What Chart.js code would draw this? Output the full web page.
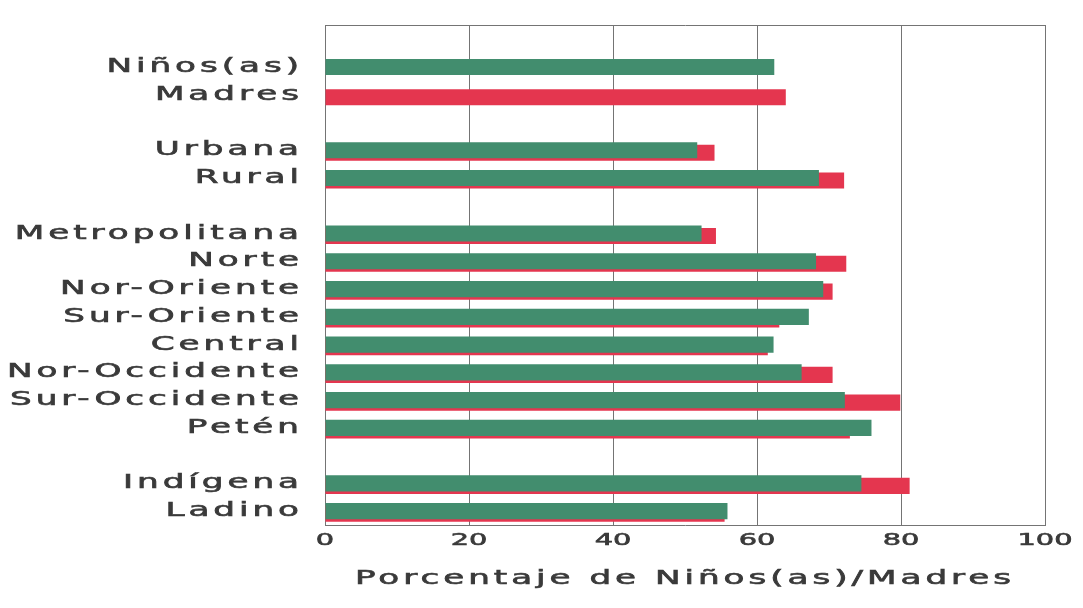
<!DOCTYPE html>
<html>
<head>
<meta charset="utf-8">
<script src="https://cdn.jsdelivr.net/npm/chart.js@4.4.1/dist/chart.umd.min.js"></script>
<style>
  html, body { margin: 0; padding: 0; background: #fff; }
  canvas { display: block; }
</style>
</head>
<body>
<canvas id="chart" width="1083" height="608"></canvas>
<script>
// rows (blank strings are the gaps between groups)
const categories = ['', 'Niños(as)', 'Madres', '', 'Urbana', 'Rural', '', 'Metropolitana', 'Norte', 'Nor-Oriente',
    'Sur-Oriente', 'Central', 'Nor-Occidente', 'Sur-Occidente', 'Petén', '', 'Indígena', 'Ladino'];
const ninos = [null, 62.4, null, null, 51.7, 68.6, null, 52.3, 68.2, 69.2, 67.2, 62.3, 66.2, 72.2, 75.9, null, 74.5, 55.9];
const madres = [null, null, 64.0, null, 54.1, 72.1, null, 54.3, 72.4, 70.5, 63.1, 61.5, 70.5, 79.9, 72.9, null, 81.2, 55.5];
const xTicks = [0, 20, 40, 60, 80, 100];
const xTitle = 'Porcentaje de Niños(as)/Madres';

const canvas = document.getElementById('chart');
const ctx = canvas.getContext('2d');

// the original uses a very wide (extended) typeface: stretch text horizontally
const STRETCH = 1.8;
const spacingFor = f => /19px/.test(f) ? '2.2px' : '0px';
const rawFill = ctx.fillText.bind(ctx);
const rawStroke = ctx.strokeText.bind(ctx);
const rawMeasure = ctx.measureText.bind(ctx);
ctx.measureText = function (text) {
    ctx.letterSpacing = spacingFor(ctx.font);
    const m = rawMeasure(text);
    return {
        width: m.width * STRETCH,
        actualBoundingBoxAscent: m.actualBoundingBoxAscent,
        actualBoundingBoxDescent: m.actualBoundingBoxDescent
    };
};
ctx.fillText = function (text, x, y) {
    ctx.save();
    ctx.letterSpacing = spacingFor(ctx.font);
    ctx.translate(x, y);
    ctx.scale(STRETCH, 1);
    rawFill(text, 0, 0);
    ctx.strokeStyle = ctx.fillStyle;
    ctx.lineWidth = 0.6;
    rawStroke(text, 0, 0);
    ctx.restore();
};

// mothers' bars sit a little lower, behind the children's bars
const shiftPlugin = {
    id: 'shiftMadres',
    beforeDatasetDraw(chart, args) {
        if (args.index === 1) {
            chart.ctx.save();
            chart.ctx.translate(0, 2.5);
        }
    },
    afterDatasetDraw(chart, args) {
        if (args.index === 1) chart.ctx.restore();
    }
};

const textColor = '#3a3a3a';
const lineColor = '#747474';
const font = size => ({ family: 'DejaVu Sans', size: size });

new Chart(ctx, {
    type: 'bar',
    data: {
        labels: categories,
        datasets: [
            { label: 'Niños(as)', data: ninos, backgroundColor: '#428d6e', grouped: false, barPercentage: 0.58, categoryPercentage: 1 },
            { label: 'Madres', data: madres, backgroundColor: '#e4364f', grouped: false, barPercentage: 0.58, categoryPercentage: 1 }
        ]
    },
    options: {
        indexAxis: 'y',
        responsive: false,
        animation: false,
        layout: { padding: { top: 22, right: 38, left: 0, bottom: 0 } },
        plugins: { legend: { display: false }, tooltip: { enabled: false } },
        scales: {
            x: {
                type: 'linear', min: 0, max: 100,
                afterBuildTicks: s => { s.ticks = xTicks.map(v => ({ value: v })); },
                grid: { color: lineColor, drawTicks: false, lineWidth: 1 },
                border: { color: lineColor, width: 1 },
                ticks: { color: textColor, font: font(16), padding: 6, autoSkip: false, maxRotation: 0 },
                title: { display: true, text: xTitle, color: textColor, font: font(19), padding: { top: 0, bottom: 18 } },
                afterFit: s => { s.height = 83; }
            },
            xTop: {
                type: 'linear', position: 'top', min: 0, max: 100,
                grid: { display: false },
                ticks: { display: false },
                border: { color: lineColor, width: 1 },
                afterFit: s => { s.height = 0; }
            },
            y: {
                grid: { display: false },
                border: { color: lineColor, width: 1 },
                ticks: { color: textColor, font: font(19), padding: 14, autoSkip: false },
                afterFit: s => { s.width = 325; }
            }
        }
    },
    plugins: [shiftPlugin]
});
</script>
</body>
</html>
